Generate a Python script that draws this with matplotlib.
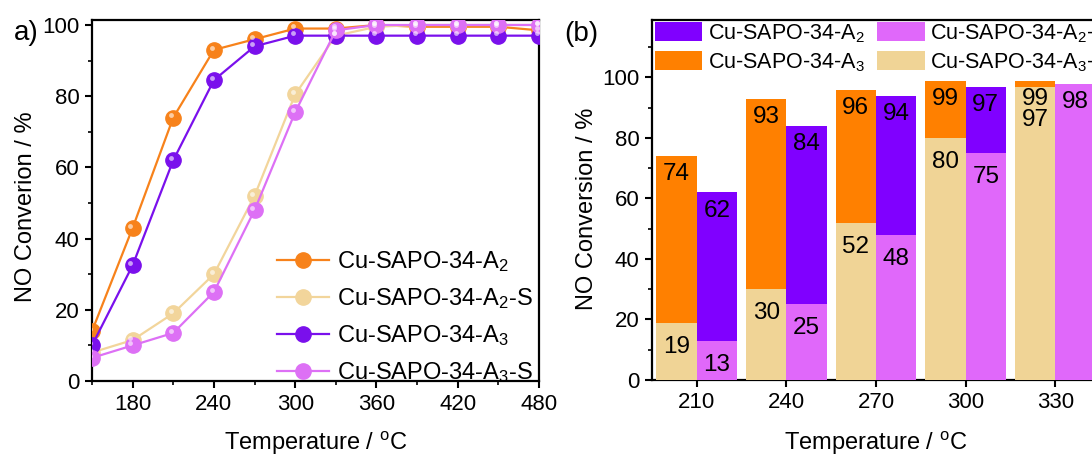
import numpy as np
import matplotlib
matplotlib.use('Agg')
import matplotlib.pyplot as plt
from matplotlib.ticker import MultipleLocator
from matplotlib.transforms import ScaledTranslation

plt.rcParams['font.family'] = ['Liberation Sans', 'DejaVu Sans']
plt.rcParams['mathtext.fontset'] = 'custom'
plt.rcParams['mathtext.rm'] = 'Liberation Sans'
plt.rcParams['mathtext.it'] = 'Liberation Sans:italic'

# panel a) - light-off curves
temp_a = [150, 180, 210, 240, 270, 300, 330, 360, 390, 420, 450, 480]
conv_a2 = [14, 43, 74, 93, 96, 99, 99, 100, 99.5, 99.5, 99.5, 98.5]
conv_a2_s = [8, 11.5, 19, 30, 52, 80.5, 97, 99.5, 100, 100, 100, 100]
conv_a3 = [10, 32.5, 62, 84.5, 94, 97, 97, 97, 97, 97, 97, 97]
conv_a3_s = [6.5, 10, 13.5, 25, 48, 75.5, 98.5, 100, 100, 100, 100, 100]
names_a = ['Cu-SAPO-34-$\\mathrm{A}_2$', 'Cu-SAPO-34-$\\mathrm{A}_2$-S',
           'Cu-SAPO-34-$\\mathrm{A}_3$', 'Cu-SAPO-34-$\\mathrm{A}_3$-S']

# panel (b) - bars
temp_b = [210, 240, 270, 300, 330]
bar_a2 = [62, 84, 94, 97, 97]
bar_a2_s = [13, 25, 48, 75, 98]
bar_a3 = [74, 93, 96, 99, 99]
bar_a3_s = [19, 30, 52, 80, 97]
names_b = ['Cu-SAPO-34-$\\mathrm{A}_2$', 'Cu-SAPO-34-$\\mathrm{A}_3$',
           'Cu-SAPO-34-$\\mathrm{A}_2$-S', 'Cu-SAPO-34-$\\mathrm{A}_3$-S']

ORANGE = '#F7821B'
BEIGE = '#F2D59B'
PURPLE = '#7A10EC'
PINK = '#DD70F5'

BAR_ORANGE = '#FF8000'
BAR_PURPLE = '#8000FF'
BAR_PINK = '#E068FA'
BAR_BEIGE = '#F0D496'

W, H = 1092, 455
fig = plt.figure(figsize=(W / 100, H / 100), dpi=100)


def style_axes(ax):
    for s in ax.spines.values():
        s.set_linewidth(1.6)
    ax.tick_params(which='major', direction='out', length=5, width=1.5, labelsize=16, pad=4)
    ax.tick_params(which='minor', direction='out', length=3, width=1.2)
    ax.tick_params(top=False, right=False, which='both')


# ---- a) ----
ax1 = fig.add_axes([92 / W, 1 - 381 / H, 447 / W, 361 / H])
style_axes(ax1)

shine = ax1.transData + ScaledTranslation(-1.6 / 72, 1.6 / 72, fig.dpi_scale_trans)
for y, c, name in zip([conv_a2, conv_a2_s, conv_a3, conv_a3_s],
                      [ORANGE, BEIGE, PURPLE, PINK], names_a):
    ax1.plot(temp_a, y, '-', color=c, lw=1.6, marker='o', ms=11,
             mfc=c, mec=c, label=name, zorder=3)
    ax1.plot(temp_a, y, 'o', ms=3.5, color='white', alpha=0.6, mew=0,
             transform=shine, zorder=4)

ax1.set_xlim(150, 480)
ax1.set_ylim(0, 101.4)
ax1.xaxis.set_minor_locator(MultipleLocator(30))
ax1.set_xticks([180, 240, 300, 360, 420, 480])
ax1.yaxis.set_major_locator(MultipleLocator(20))
ax1.yaxis.set_minor_locator(MultipleLocator(10))
ax1.set_xlabel('Temperature / $^\\mathrm{o}$C', fontsize=17)
ax1.set_ylabel('NO Converion / %', fontsize=17)
ax1.xaxis.set_label_coords(0.5, -0.135)
ax1.yaxis.set_label_coords(-0.123, 0.482)

ax1.legend(loc='upper left', bbox_to_anchor=(277 / W, 1 - 249 / H),
           bbox_transform=fig.transFigure, frameon=False, fontsize=17,
           borderpad=0, borderaxespad=0, handlelength=2.2, handletextpad=0.34,
           labelspacing=0.52, numpoints=1)

fig.text(26 / W, 1 - 33 / H, 'a)', fontsize=20, ha='center', va='center')

# ---- (b) ----
ax2 = fig.add_axes([652 / W, 1 - 380 / H, 448 / W, 360 / H])
style_axes(ax2)

bw = 13.5
xb = np.array(temp_b)
h_a3 = ax2.bar(xb - bw / 2, bar_a3, width=bw, color=BAR_ORANGE, lw=0, zorder=2)
h_a3s = ax2.bar(xb - bw / 2, bar_a3_s, width=bw, color=BAR_BEIGE, lw=0, zorder=3)
h_a2 = ax2.bar(xb + bw / 2, bar_a2, width=bw, color=BAR_PURPLE, lw=0, zorder=2)
h_a2s = ax2.bar(xb + bw / 2, bar_a2_s, width=bw, color=BAR_PINK, lw=0, zorder=3)

# value labels inside the bars
txt_h = 6.2
for x0, backs, fronts in [(xb - bw / 2, bar_a3, bar_a3_s), (xb + bw / 2, bar_a2, bar_a2_s)]:
    for x, b, f in zip(x0, backs, fronts):
        top_b = b - 2.4
        if b > f:
            ax2.text(x, top_b, str(b), ha='center', va='top', fontsize=17.5, zorder=5)
            top_f = min(f - 4.3, top_b - txt_h - 0.8)
        else:
            top_f = f - 2.4
        ax2.text(x, top_f, str(f), ha='center', va='top', fontsize=17.5, zorder=5)

ax2.set_xlim(195, 345)
ax2.set_ylim(0, 119)
ax2.set_xticks(temp_b)
ax2.yaxis.set_minor_locator(MultipleLocator(10))
ax2.set_yticks([0, 20, 40, 60, 80, 100])
ax2.set_xlabel('Temperature / $^\\mathrm{o}$C', fontsize=17)
ax2.set_ylabel('NO Conversion / %', fontsize=17)
ax2.xaxis.set_label_coords(0.5, -0.138)
ax2.yaxis.set_label_coords(-0.12, 0.475)

ax2.legend([h_a2, h_a3, h_a2s, h_a3s], names_b, ncol=2, loc='upper left',
           bbox_to_anchor=(655 / W, 1 - 22 / H), bbox_transform=fig.transFigure,
           frameon=False, fontsize=15.5, borderpad=0, borderaxespad=0,
           handlelength=2.2, handleheight=1.0, handletextpad=0.25,
           labelspacing=0.3, columnspacing=0.6)

fig.text(581 / W, 1 - 34 / H, '(b)', fontsize=20, ha='center', va='center')

fig.savefig('out.png', dpi=100)
